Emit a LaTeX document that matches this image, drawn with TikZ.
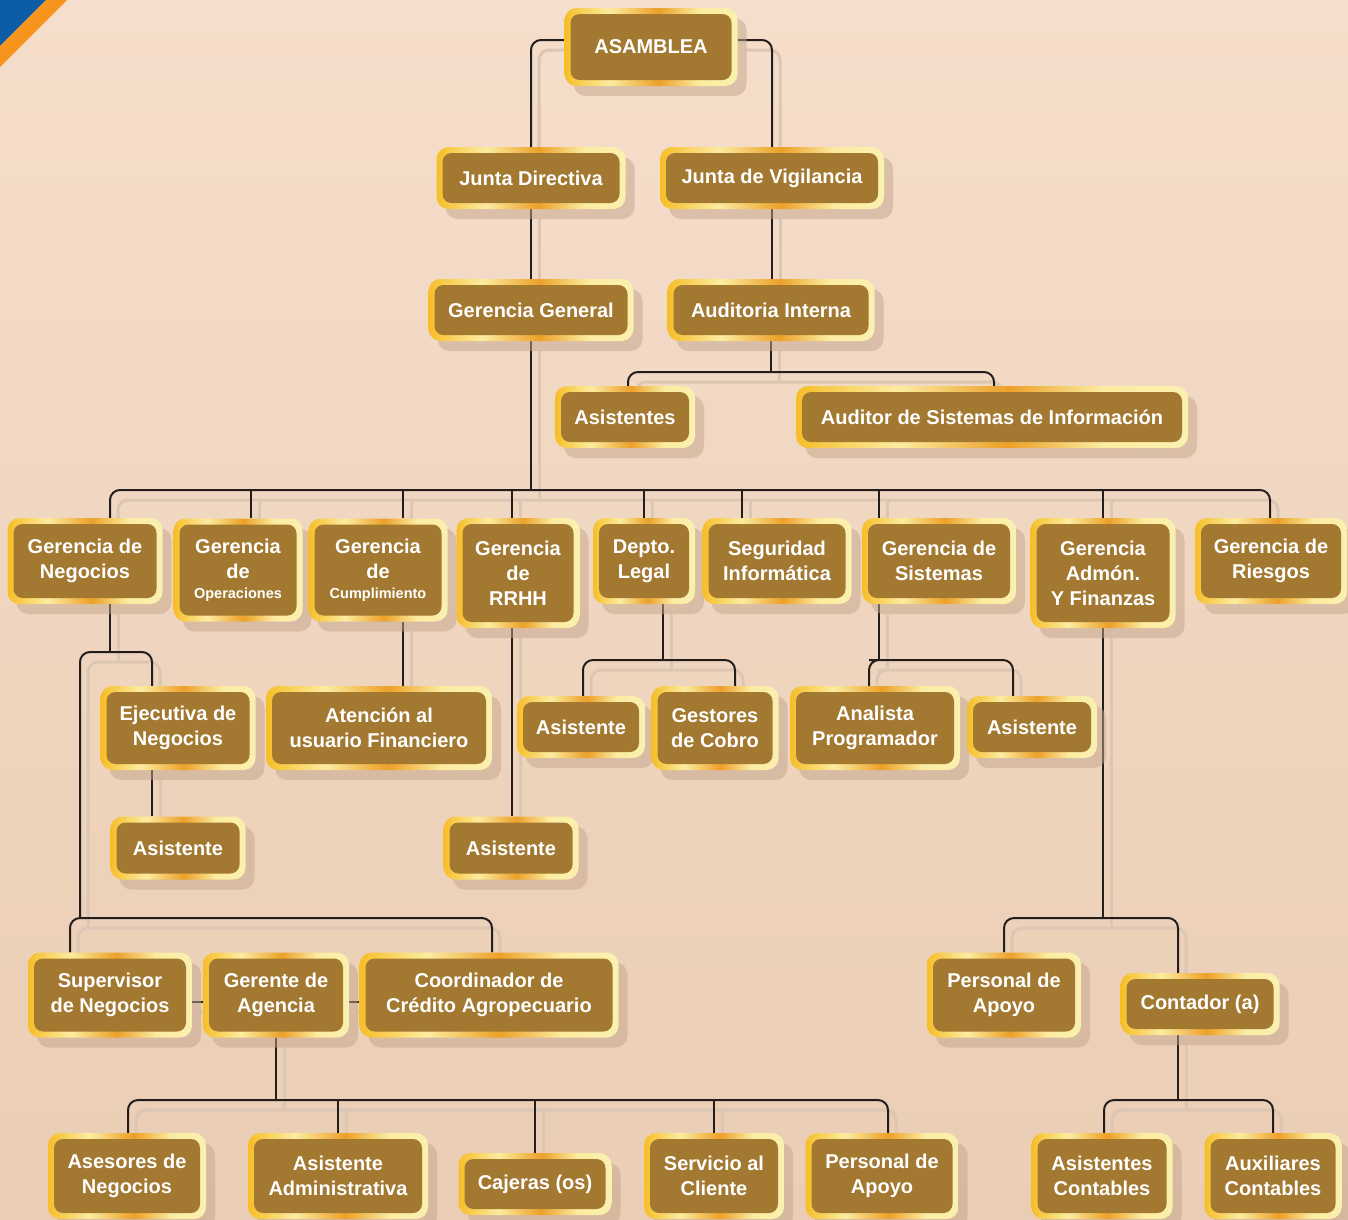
\documentclass[tikz,border=0pt]{standalone}
\usepackage{fontspec}
\setmainfont{Liberation Sans}
\usepackage{xcolor}
\definecolor{cafe}{RGB}{163,120,48}
\definecolor{oroa}{RGB}{246,190,40}
\definecolor{orob}{RGB}{252,236,160}
\definecolor{oroc}{RGB}{236,160,40}
\definecolor{orod}{RGB}{250,240,176}
\definecolor{fondoa}{RGB}{245,222,203}
\definecolor{fondob}{RGB}{234,205,180}
\definecolor{sombra}{RGB}{196,165,140}
\definecolor{fantasma}{RGB}{220,198,180}
\definecolor{linea}{RGB}{35,30,28}
\definecolor{azul}{RGB}{12,92,168}
\definecolor{naranja}{RGB}{247,148,29}
\usepackage{tikz}
\usetikzlibrary{shadows}
\usetikzlibrary{positioning}
\pgfdeclarelayer{fondo}
\pgfdeclarelayer{lineas}
\pgfsetlayers{fondo,lineas,main}
\pgfdeclarehorizontalshading{oro}{100bp}{color(0bp)=(oroa); color(25bp)=(oroa); color(38bp)=(orob); color(52bp)=(oroc); color(64bp)=(orob); color(75bp)=(orod); color(100bp)=(orod)}
\newcommand{\chico}[1]{{\fontsize{14.5}{18}\selectfont #1}}
\tikzset{
  cargo/.style={shading=oro, rounded corners=12pt, align=center, text=white,
    font=\fontsize{20}{25}\selectfont\bfseries, inner sep=0pt,
    drop shadow={shadow xshift=9pt, shadow yshift=-10pt, fill=sombra, opacity=0.5},
    path picture={\fill[cafe, rounded corners=9pt]
      ([shift={(6pt,-6pt)}]path picture bounding box.north west) rectangle
      ([shift={(-6pt,6pt)}]path picture bounding box.south east);}},
  conector/.style={draw=linea, line width=2pt, rounded corners=10pt,
    preaction={draw=fantasma, line width=3pt, transform canvas={shift={(8pt,-10pt)}}}}
}

\begin{document}
\begin{tikzpicture}[x=1pt,y=-1pt]
\useasboundingbox (0,0) rectangle (1348,1219);
\begin{pgfonlayer}{fondo}
\fill[top color=fondoa, bottom color=fondob] (0,0) rectangle (1348,1219);
\fill[azul] (0,0) -- (46,0) -- (0,46) -- cycle;
\fill[naranja] (46,0) -- (67,0) -- (0,67) -- (0,46) -- cycle;
\end{pgfonlayer}

% direccion
\node[cargo, minimum width=173pt, minimum height=78pt] (asamblea) at (651,47) {ASAMBLEA};
\node[cargo, minimum width=189pt, minimum height=62pt] (juntadir) at (531,178) {Junta Directiva};
\node[cargo, minimum width=224pt, minimum height=62pt] (juntavig) at (772,178) {Junta de Vigilancia};
\node[cargo, minimum width=205pt, minimum height=62pt] (gergral) at (531,310) {Gerencia General};
\node[cargo, minimum width=207pt, minimum height=62pt] (auditoria) at (771,310) {Auditoria Interna};
\node[cargo, minimum width=140pt, minimum height=62pt] (asistaud) at (625,417) {Asistentes};
\node[cargo, minimum width=392pt, minimum height=62pt] (auditorsis) at (992,417) {Auditor de Sistemas de Información};

% gerencias
\node[cargo, minimum width=155pt, minimum height=86pt] (gneg) at (85,561) {Gerencia de\\Negocios};
\node[cargo, minimum width=129pt, minimum height=103pt] (gop) at (238,570) {Gerencia\\de\\[-5pt]\chico{Operaciones}};
\node[cargo, minimum width=139pt, minimum height=103pt] (gcum) at (378,570) {Gerencia\\de\\[-5pt]\chico{Cumplimiento}};
\node[cargo, minimum width=123pt, minimum height=110pt] (grrhh) at (518,573) {Gerencia\\de\\RRHH};
\node[cargo, minimum width=102pt, minimum height=86pt] (legal) at (644,561) {Depto.\\Legal};
\node[cargo, minimum width=149pt, minimum height=86pt] (seginf) at (777,561) {Seguridad\\Informática};
\node[cargo, minimum width=154pt, minimum height=86pt] (gsis) at (939,561) {Gerencia de\\Sistemas};
\node[cargo, minimum width=145pt, minimum height=110pt] (gadm) at (1103,573) {Gerencia\\Admón.\\Y Finanzas};
\node[cargo, minimum width=152pt, minimum height=86pt] (griesgos) at (1271,561) {Gerencia de\\Riesgos};

% tercer nivel
\node[cargo, minimum width=155pt, minimum height=84pt] (ejecutiva) at (178,728) {Ejecutiva de\\Negocios};
\node[cargo, minimum width=226pt, minimum height=84pt] (atencion) at (379,728) {Atención al\\usuario Financiero};
\node[cargo, minimum width=135pt, minimum height=63pt] (asistejec) at (178,848) {Asistente};
\node[cargo, minimum width=135pt, minimum height=63pt] (asistrrhh) at (511,848) {Asistente};
\node[cargo, minimum width=128pt, minimum height=62pt] (asistlegal) at (581,727) {Asistente};
\node[cargo, minimum width=127pt, minimum height=84pt] (gestores) at (715,728) {Gestores\\de Cobro};
\node[cargo, minimum width=170pt, minimum height=84pt] (analista) at (875,728) {Analista\\Programador};
\node[cargo, minimum width=130pt, minimum height=62pt] (asistsis) at (1032,727) {Asistente};

% agencias y contabilidad
\node[cargo, minimum width=164pt, minimum height=85pt] (supervisor) at (110,995) {Supervisor\\de Negocios};
\node[cargo, minimum width=146pt, minimum height=85pt] (gerente) at (276,995) {Gerente de\\Agencia};
\node[cargo, minimum width=259pt, minimum height=85pt] (coordinador) at (489,995) {Coordinador de\\Crédito Agropecuario};
\node[cargo, minimum width=154pt, minimum height=85pt] (apoyoadm) at (1004,995) {Personal de\\Apoyo};
\node[cargo, minimum width=159pt, minimum height=62pt] (contador) at (1200,1004) {Contador (a)};

\node[cargo, minimum width=158pt, minimum height=86pt] (asesores) at (127,1176) {Asesores de\\Negocios};
\node[cargo, minimum width=180pt, minimum height=86pt] (asistadm) at (338,1176) {Asistente\\Administrativa};
\node[cargo, minimum width=153pt, minimum height=62pt] (cajeras) at (535,1184) {Cajeras (os)};
\node[cargo, minimum width=140pt, minimum height=86pt] (servicio) at (714,1176) {Servicio al\\Cliente};
\node[cargo, minimum width=153pt, minimum height=86pt] (apoyoage) at (882,1176) {Personal de\\Apoyo};
\node[cargo, minimum width=141pt, minimum height=86pt] (asistcont) at (1102,1176) {Asistentes\\Contables};
\node[cargo, minimum width=137pt, minimum height=86pt] (auxcont) at (1273,1176) {Auxiliares\\Contables};

\begin{pgfonlayer}{lineas}
\draw[conector] ([yshift=7pt]asamblea.west) -| (juntadir.north);
\draw[conector] ([yshift=7pt]asamblea.east) -| (juntavig.north);
\draw[conector] (juntadir) -- (gergral);
\draw[conector] (juntavig) -- (juntavig |- auditoria.north);
\coordinate (busaud) at (771,372);
\draw[conector] (auditoria) -- (busaud);
\draw[conector] ([xshift=3pt]asistaud.north) |- (busaud) -| ([xshift=2pt]auditorsis.north);

\coordinate (busgg) at (531,490);
\draw[conector] (gergral) -- (busgg);
\draw[conector] ([xshift=25pt]gneg.north) |- (busgg) -| ([xshift=-1pt]griesgos.north);
\foreach \n/\dx in {gop/13, gcum/25, grrhh/-6, legal/0, seginf/-35, gsis/-60, gadm/0}
  \draw[conector] ([xshift=\dx pt]\n.north) -- ([xshift=\dx pt]\n.north |- busgg);

\coordinate (busneg) at (110,652);
\coordinate (busage) at (80,918);
\draw[conector] ([xshift=25pt]gneg.south) -- (busneg);
\draw[conector] ([xshift=-26pt]ejecutiva.north) |- (busneg) -| (busage);
\draw[conector] ([xshift=-26pt]ejecutiva.south) -- ([xshift=-26pt]asistejec.north);
\draw[conector] ([xshift=-40pt]supervisor.north) |- ([xshift=3pt]coordinador.north |- busage) -- ([xshift=3pt]coordinador.north);
\draw[conector] ([yshift=-7pt]supervisor.east) -- ([yshift=-7pt]gerente.west);
\draw[conector] ([yshift=-7pt]gerente.east) -- ([yshift=-7pt]coordinador.west);

\coordinate (busger) at (276,1100);
\draw[conector] (gerente.south) -- (busger);
\draw[conector] ([xshift=1pt]asesores.north) |- (busger) -| ([xshift=6pt]apoyoage.north);
\foreach \n in {asistadm, cajeras, servicio}
  \draw[conector] (\n.north |- busger) -- (\n.north);

\draw[conector] ([xshift=25pt]gcum.south) -- ([xshift=25pt]gcum.south |- atencion.north);
\draw[conector] ([xshift=-6pt]grrhh.south) -- ([xshift=-6pt]grrhh.south |- asistrrhh.north);

\coordinate (buslegal) at (663,660);
\draw[conector] ([xshift=19pt]legal.south) -- (buslegal);
\draw[conector] ([xshift=2pt]asistlegal.north) |- (buslegal) -| ([xshift=20pt]gestores.north);

\coordinate (bussis) at (879,660);
\draw[conector] ([xshift=-60pt]gsis.south) -- (bussis);
\draw[conector] ([xshift=-6pt]analista.north) |- (bussis) -| ([xshift=-19pt]asistsis.north);

\coordinate (busadm) at (1103,918);
\draw[conector] (gadm.south) -- (busadm);
\draw[conector] (apoyoadm.north) |- (busadm) -| ([xshift=-22pt]contador.north);
\coordinate (buscont) at (1178,1100);
\draw[conector] ([xshift=-22pt]contador.south) -- (buscont);
\draw[conector] ([xshift=2pt]asistcont.north) |- (buscont) -| (auxcont.north);
\end{pgfonlayer}
\end{tikzpicture}
\end{document}
